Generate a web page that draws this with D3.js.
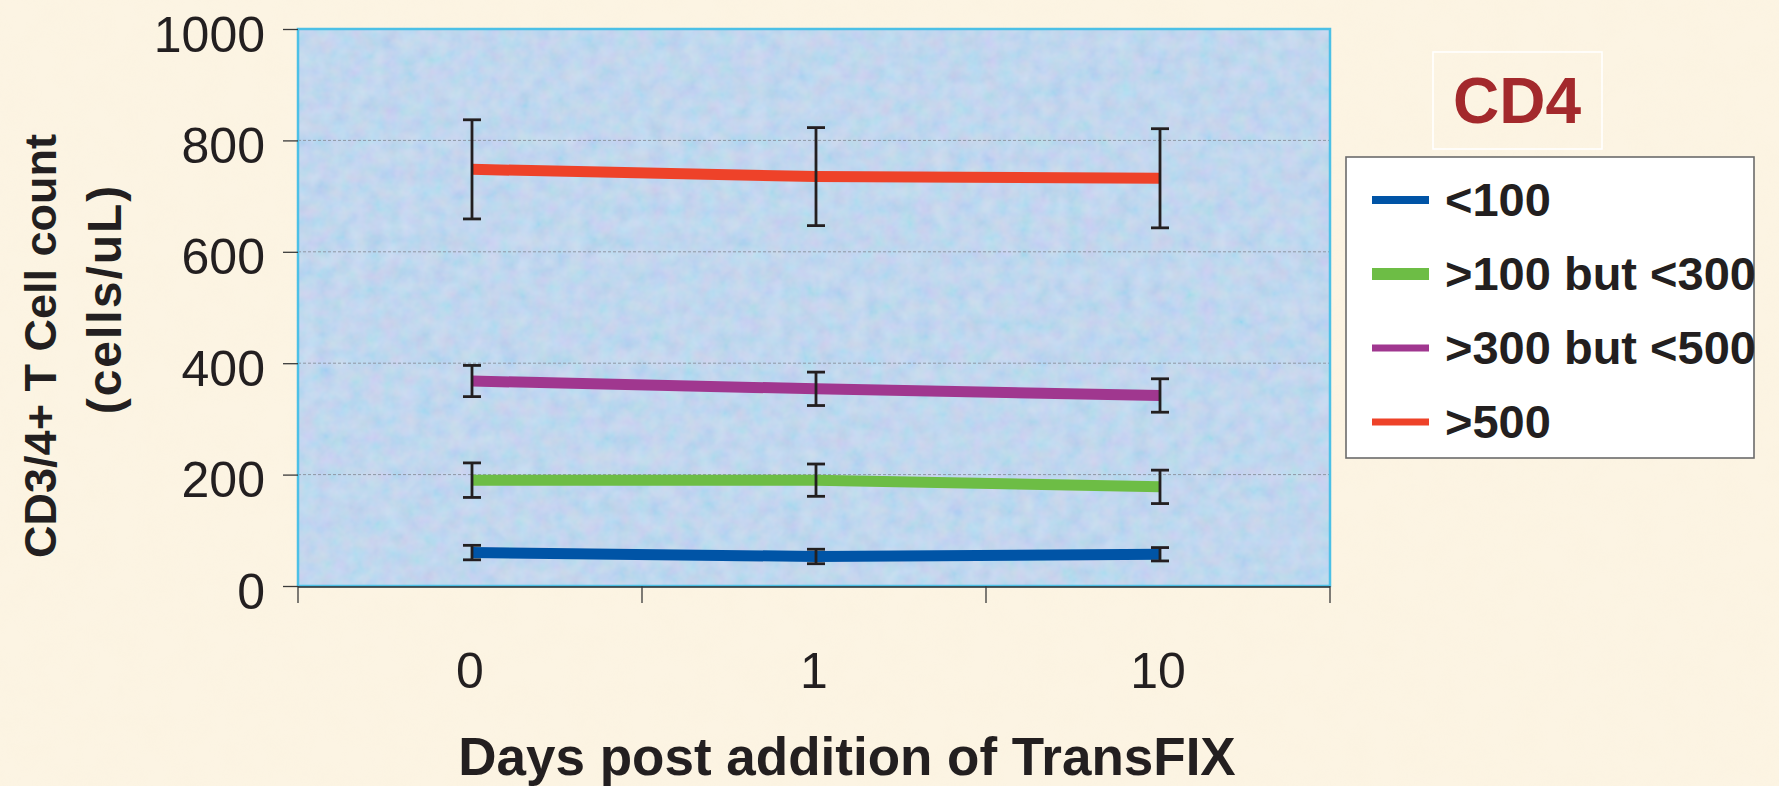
<!DOCTYPE html>
<html>
<head>
<meta charset="utf-8">
<script src="https://cdn.jsdelivr.net/npm/d3@7"></script>
<style>
  html, body { margin: 0; padding: 0; background: #fcf4e3; }
  svg { display: block; }
</style>
</head>
<body>
<svg id="chart" width="1779" height="786"></svg>
<script>
// Days after TransFIX was added
const days = ["0", "1", "10"];

// CD4 count groups (cells/uL)
const groupNames = ["<100", ">100 but <300", ">300 but <500", ">500"];

// Mean counts per group at each day, with error (±)
const below100 = [60, 53, 57];
const below100Err = [13, 13, 12];
const from100to300 = [190, 190, 178];
const from100to300Err = [31, 29, 30];
const from300to500 = [368, 354, 342];
const from300to500Err = [28, 30, 30];
const above500 = [748, 735, 732];
const above500Err = [89, 88, 89];

const yTickValues = [0, 200, 400, 600, 800, 1000];
const gridValues = [200, 400, 600, 800];

const groupColors = ["#0054a6", "#6dbd45", "#a0378f", "#ee4229"];

const groups = [
  { name: groupNames[0], values: below100, err: below100Err, color: groupColors[0] },
  { name: groupNames[1], values: from100to300, err: from100to300Err, color: groupColors[1] },
  { name: groupNames[2], values: from300to500, err: from300to500Err, color: groupColors[2] },
  { name: groupNames[3], values: above500, err: above500Err, color: groupColors[3] }
];

const svg = d3.select("#chart");
const W = 1779, H = 786;
const plot = { left: 298, right: 1330, top: 29, bottom: 586 };

// Background texture for the page and plot area
const defs = svg.append("defs");
const paper = defs.append("filter").attr("id", "paper")
  .attr("x", 0).attr("y", 0).attr("width", "100%").attr("height", "100%");
paper.append("feTurbulence").attr("type", "fractalNoise")
  .attr("baseFrequency", 0.035).attr("numOctaves", 3).attr("seed", 4).attr("result", "noise");
paper.append("feColorMatrix").attr("in", "noise").attr("type", "matrix")
  .attr("values", "0 0 0 0 0.93  0 0 0 0 0.84  0 0 0 0 0.66  0 0 0 0.55 -0.18");

const mottle = defs.append("filter").attr("id", "mottle")
  .attr("x", 0).attr("y", 0).attr("width", "100%").attr("height", "100%");
mottle.append("feTurbulence").attr("type", "fractalNoise")
  .attr("baseFrequency", 0.06).attr("numOctaves", 3).attr("seed", 11).attr("result", "n");
mottle.append("feColorMatrix").attr("in", "n").attr("type", "matrix")
  .attr("values", "0.9 0 0 0 -0.05  0 0.6 0 0 0.25  0 0 0.5 0 0.55  0 0 0 0 0.45");

svg.append("rect").attr("width", W).attr("height", H).attr("fill", "#fcf4e3");
svg.append("rect").attr("width", W).attr("height", H).attr("filter", "url(#paper)").attr("opacity", 0.35);

// Scales
const x = d3.scaleBand().domain(days).range([plot.left, plot.right]);
const y = d3.scaleLinear().domain([0, 1000]).range([plot.bottom, plot.top]);

// Plot area
svg.append("rect")
  .attr("x", plot.left).attr("y", plot.top)
  .attr("width", plot.right - plot.left).attr("height", plot.bottom - plot.top)
  .attr("fill", "#c8ddf1");
svg.append("rect")
  .attr("x", plot.left).attr("y", plot.top)
  .attr("width", plot.right - plot.left).attr("height", plot.bottom - plot.top)
  .attr("filter", "url(#mottle)").attr("opacity", 0.5);

// Gridlines
svg.append("g").selectAll("line").data(gridValues).join("line")
  .attr("x1", plot.left).attr("x2", plot.right)
  .attr("y1", d => y(d)).attr("y2", d => y(d))
  .attr("stroke", "#8f98a4").attr("stroke-width", 1).attr("stroke-dasharray", "3,2");

// Plot frame
svg.append("rect")
  .attr("x", plot.left).attr("y", plot.top)
  .attr("width", plot.right - plot.left).attr("height", plot.bottom - plot.top)
  .attr("fill", "none").attr("stroke", "#4cc0e6").attr("stroke-width", 2.5);

// Y axis
const yAxis = svg.append("g")
  .attr("transform", `translate(${plot.left},0)`)
  .call(d3.axisLeft(y).tickValues(yTickValues).tickSize(15).tickPadding(18).tickFormat(d3.format("d")));
yAxis.select(".domain").remove();
yAxis.selectAll(".tick line").attr("stroke", "#3a3a3a").attr("stroke-width", 1.3);
yAxis.selectAll(".tick text")
  .attr("font-family", "'Liberation Sans', Arial, sans-serif")
  .attr("font-size", 50).attr("fill", "#231f20").attr("dy", "0.44em");

// X axis: baseline, labels at category centres, tick marks between categories
svg.append("line")
  .attr("x1", plot.left).attr("x2", plot.right)
  .attr("y1", plot.bottom + 1).attr("y2", plot.bottom + 1)
  .attr("stroke", "#2d2d2d").attr("stroke-width", 1.5);

const xAxis = svg.append("g")
  .attr("transform", `translate(0,${plot.bottom})`)
  .call(d3.axisBottom(x).tickSize(0).tickPadding(0));
xAxis.select(".domain").remove();
xAxis.selectAll(".tick text")
  .attr("font-family", "'Liberation Sans', Arial, sans-serif")
  .attr("font-size", 50).attr("fill", "#231f20")
  .attr("dy", null).attr("y", 102);

const boundaries = days.map(d => x(d)).concat([x(days[days.length - 1]) + x.bandwidth()]);
svg.append("g").selectAll("line").data(boundaries).join("line")
  .attr("x1", d => d).attr("x2", d => d)
  .attr("y1", plot.bottom).attr("y2", plot.bottom + 17)
  .attr("stroke", "#3a3a3a").attr("stroke-width", 1.3);

// Series lines
const cx = d => x(d) + x.bandwidth() / 2 + 2;
const line = d3.line().x(d => cx(d.day)).y(d => y(d.value));

groups.forEach(g => {
  const pts = days.map((day, i) => ({ day, value: g.values[i], err: g.err[i] }));
  svg.append("path")
    .datum(pts)
    .attr("d", line)
    .attr("fill", "none")
    .attr("stroke", g.color)
    .attr("stroke-width", 11)
    .attr("stroke-linejoin", "round");
});

// Error bars
groups.forEach(g => {
  const pts = days.map((day, i) => ({ day, value: g.values[i], err: g.err[i] }));
  const eb = svg.append("g").attr("stroke", "#231f20").attr("stroke-width", 2.8);
  eb.selectAll("line.stem").data(pts).join("line").attr("class", "stem")
    .attr("x1", d => cx(d.day)).attr("x2", d => cx(d.day))
    .attr("y1", d => y(d.value + d.err)).attr("y2", d => y(d.value - d.err));
  eb.selectAll("line.top").data(pts).join("line").attr("class", "top")
    .attr("x1", d => cx(d.day) - 9).attr("x2", d => cx(d.day) + 9)
    .attr("y1", d => y(d.value + d.err)).attr("y2", d => y(d.value + d.err));
  eb.selectAll("line.bot").data(pts).join("line").attr("class", "bot")
    .attr("x1", d => cx(d.day) - 9).attr("x2", d => cx(d.day) + 9)
    .attr("y1", d => y(d.value - d.err)).attr("y2", d => y(d.value - d.err));
});

// Axis titles
svg.append("text")
  .attr("x", 847).attr("y", 775)
  .attr("text-anchor", "middle")
  .attr("font-family", "'Liberation Sans', Arial, sans-serif")
  .attr("font-weight", "bold").attr("font-size", 53).attr("fill", "#231f20")
  .text("Days post addition of TransFIX");

svg.append("text")
  .attr("transform", "translate(56,346) rotate(-90)")
  .attr("text-anchor", "middle")
  .attr("font-family", "'Liberation Sans', Arial, sans-serif")
  .attr("font-weight", "bold").attr("font-size", 45).attr("fill", "#231f20")
  .text("CD3/4+ T Cell count");
svg.append("text")
  .attr("transform", "translate(121,299) rotate(-90)")
  .attr("text-anchor", "middle")
  .attr("font-family", "'Liberation Sans', Arial, sans-serif")
  .attr("font-weight", "bold").attr("font-size", 48).attr("fill", "#231f20")
  .attr("letter-spacing", 2)
  .text("(cells/uL)");

// Title box
svg.append("rect")
  .attr("x", 1433).attr("y", 52).attr("width", 169).attr("height", 97)
  .attr("fill", "none").attr("stroke", "#ffffff").attr("stroke-width", 1.6);
svg.append("text")
  .attr("x", 1517).attr("y", 123)
  .attr("text-anchor", "middle")
  .attr("font-family", "'Liberation Sans', Arial, sans-serif")
  .attr("font-weight", "bold").attr("font-size", 64).attr("fill", "#a3292c")
  .text("CD4");

// Legend
const legend = svg.append("g");
legend.append("rect")
  .attr("x", 1346).attr("y", 157).attr("width", 408).attr("height", 301)
  .attr("fill", "#ffffff").attr("stroke", "#6b6b6b").attr("stroke-width", 1.6);
const legendRow = d3.scalePoint().domain(groupNames).range([200, 422]);
const swatchWidth = { "<100": 8, ">100 but <300": 12, ">300 but <500": 7, ">500": 7 };
legend.selectAll("line.sw").data(groups).join("line").attr("class", "sw")
  .attr("x1", 1372).attr("x2", 1429)
  .attr("y1", d => legendRow(d.name)).attr("y2", d => legendRow(d.name))
  .attr("stroke", d => d.color).attr("stroke-width", d => swatchWidth[d.name]);
legend.selectAll("text").data(groups).join("text")
  .attr("x", 1445).attr("y", d => legendRow(d.name) + 16)
  .attr("font-family", "'Liberation Sans', Arial, sans-serif")
  .attr("font-weight", "bold").attr("font-size", 47).attr("fill", "#231f20")
  .text(d => d.name);
</script>
</body>
</html>
